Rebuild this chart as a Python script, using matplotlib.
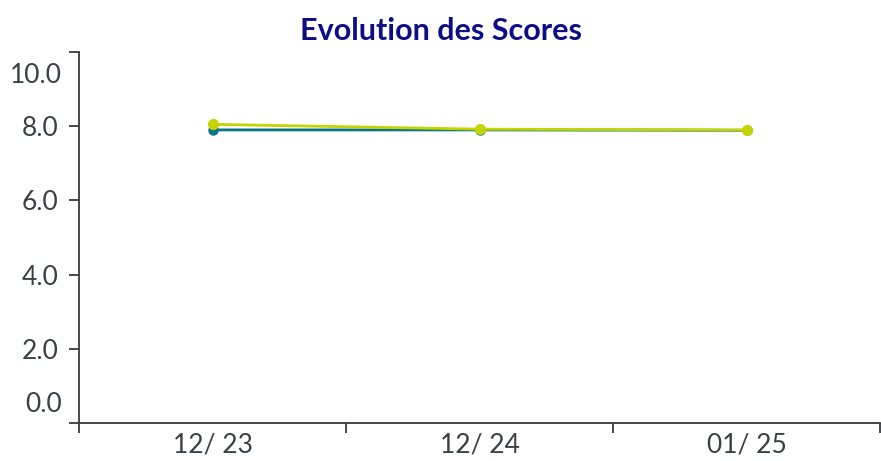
import matplotlib
matplotlib.use("Agg")
import matplotlib.pyplot as plt
import matplotlib.transforms as mtransforms

categories = ["12/ 23", "12/ 24", "01/ 25"]
series_teal = [7.90, 7.90, 7.89]
series_lime = [8.05, 7.92, 7.90]
y_ticks = [0, 2, 4, 6, 8, 10]

TEAL = "#0b7386"
LIME = "#c3d400"
AXC = "#343a40"
TXT = "#3b4046"
FS = 19

plt.rcParams['font.family'] = ['Lato', 'DejaVu Sans']

fig = plt.figure(figsize=(8.81, 4.61), dpi=100)
ax = fig.add_axes([79/881, 1 - 423/461, 1 - 79/881 - 0.001, (423 - 52)/461])

x = list(range(len(categories)))
ax.plot(x, series_teal, color=TEAL, lw=2, marker='o', ms=6.5, zorder=3)
ax.plot(x, series_lime, color=LIME, lw=2, marker='o', ms=7, zorder=4)

ax.set_xlim(-0.5, len(categories) - 0.5)
ax.set_ylim(0, 10)

for s in ['top', 'right']:
    ax.spines[s].set_visible(False)
for s in ['left', 'bottom']:
    ax.spines[s].set_color(AXC)
    ax.spines[s].set_linewidth(1.3)

# x: labels at category centers, tick marks at band edges
ax.set_xticks(x)
ax.set_xticklabels(categories)
ax.tick_params(axis='x', which='major', length=0, pad=7, labelsize=FS, labelcolor=TXT)
ax.set_xticks([i - 0.5 for i in range(len(categories) + 1)], minor=True)
ax.tick_params(axis='x', which='minor', length=7, width=1.3, color=AXC)

# y ticks
ax.set_yticks(y_ticks)
ax.set_yticklabels(["" if v in (0, 10) else f"{v:.1f}" for v in y_ticks])
ax.tick_params(axis='y', length=7, width=1.3, color=AXC, pad=8, labelsize=FS, labelcolor=TXT)

# end labels shifted inward (as in the reference)
trans = mtransforms.blended_transform_factory(ax.transAxes, ax.transData)
off_dn = mtransforms.ScaledTranslation(0, -8/72, fig.dpi_scale_trans)
off_up = mtransforms.ScaledTranslation(0, 4/72, fig.dpi_scale_trans)
xl = -(7 + 10) / (881 - 79)
ax.text(xl, 10, f"{10:.1f}", transform=trans + off_dn, ha='right', va='top',
        fontsize=FS, color=TXT)
ax.text(xl, 0, f"{0:.1f}", transform=trans + off_up, ha='right', va='bottom',
        fontsize=FS, color=TXT)

fig.suptitle("Evolution des Scores", y=1 - 31/461, va='center',
             fontsize=22, fontweight='bold', color='#0d0d8a')

fig.savefig("out.png", dpi=100)
